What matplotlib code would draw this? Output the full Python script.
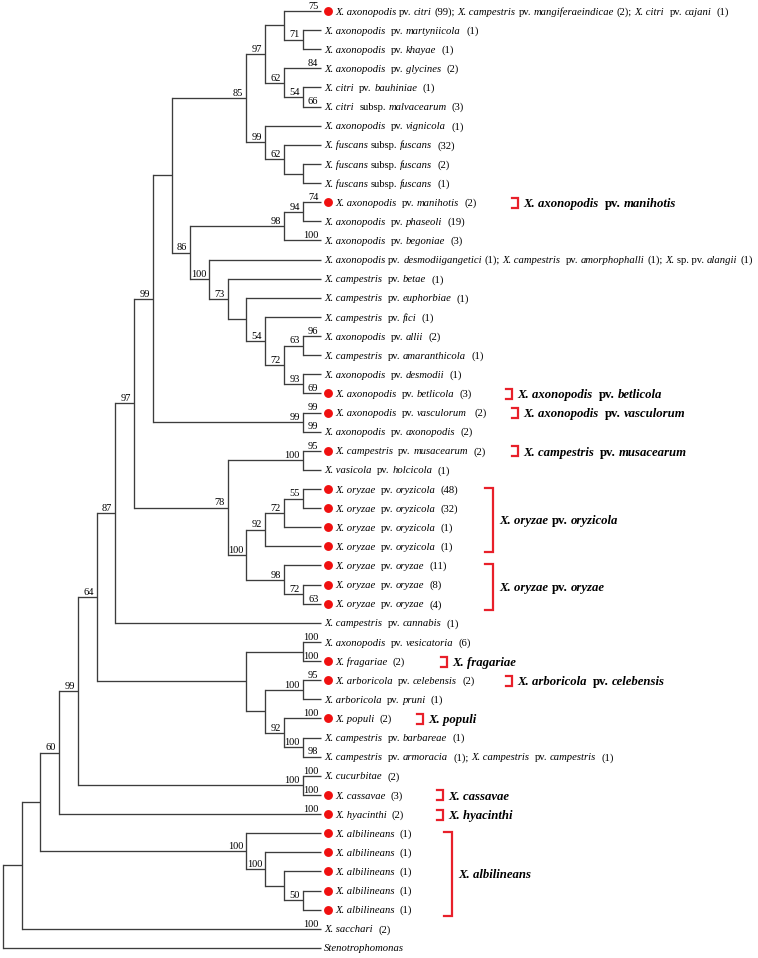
import re
import matplotlib
matplotlib.use("Agg")
import matplotlib.pyplot as plt

# ------------------------------------------------------------------ data
LEAF_LABELS = [
    "*X. axonopodis* pv. *citri* (99); *X. campestris* pv. *mangiferaeindicae* (2); *X. citri*  pv. *cajani*  (1)",
    "*X. axonopodis*  pv. *martyniicola*  (1)",
    "*X. axonopodis*  pv. *khayae*  (1)",
    "*X. axonopodis*  pv. *glycines*  (2)",
    "*X. citri*  pv. *bauhiniae*  (1)",
    "*X. citri*  subsp. *malvacearum*  (3)",
    "*X. axonopodis*  pv. *vignicola*  (1)",
    "*X. fuscans* subsp. *fuscans*  (32)",
    "*X. fuscans* subsp. *fuscans*  (2)",
    "*X. fuscans* subsp. *fuscans*  (1)",
    "*X. axonopodis*  pv. *manihotis*  (2)",
    "*X. axonopodis*  pv. *phaseoli*  (19)",
    "*X. axonopodis*  pv. *begoniae*  (3)",
    "*X. axonopodis* pv. *desmodiigangetici* (1); *X. campestris*  pv. *amorphophalli* (1); *X.* sp. pv. *alangii* (1)",
    "*X. campestris*  pv. *betae*  (1)",
    "*X. campestris*  pv. *euphorbiae*  (1)",
    "*X. campestris*  pv. *fici*  (1)",
    "*X. axonopodis*  pv. *allii*  (2)",
    "*X. campestris*  pv. *amaranthicola*  (1)",
    "*X. axonopodis*  pv. *desmodii*  (1)",
    "*X. axonopodis*  pv. *betlicola*  (3)",
    "*X. axonopodis*  pv. *vasculorum*   (2)",
    "*X. axonopodis*  pv. *axonopodis*  (2)",
    "*X. campestris*  pv. *musacearum*  (2)",
    "*X. vasicola*  pv. *holcicola*  (1)",
    "*X. oryzae*  pv. *oryzicola*  (48)",
    "*X. oryzae*  pv. *oryzicola*  (32)",
    "*X. oryzae*  pv. *oryzicola*  (1)",
    "*X. oryzae*  pv. *oryzicola*  (1)",
    "*X. oryzae*  pv. *oryzae*  (11)",
    "*X. oryzae*  pv. *oryzae*  (8)",
    "*X. oryzae*  pv. *oryzae*  (4)",
    "*X. campestris*  pv. *cannabis*  (1)",
    "*X. axonopodis*  pv. *vesicatoria*  (6)",
    "*X. fragariae*  (2)",
    "*X. arboricola*  pv. *celebensis*  (2)",
    "*X. arboricola*  pv. *pruni*  (1)",
    "*X. populi*  (2)",
    "*X. campestris*  pv. *barbareae*  (1)",
    "*X. campestris*  pv. *armoracia*  (1); *X. campestris*  pv. *campestris*  (1)",
    "*X. cucurbitae*  (2)",
    "*X. cassavae*  (3)",
    "*X. hyacinthi*  (2)",
    "*X. albilineans*  (1)",
    "*X. albilineans*  (1)",
    "*X. albilineans*  (1)",
    "*X. albilineans*  (1)",
    "*X. albilineans*  (1)",
    "*X. sacchari*  (2)",
    "*Stenotrophomonas*",
]

# bootstrap values written on terminal branches (leaf index -> value)
LEAF_SUPPORT = {0: 75, 3: 84, 5: 66, 10: 74, 12: 100, 17: 96, 20: 69, 21: 99,
                22: 99, 23: 95, 31: 63, 33: 100, 34: 100, 35: 95, 37: 100,
                39: 98, 40: 100, 41: 100, 42: 100, 48: 100}

# leaves marked with a red dot
RED_DOT_LEAVES = [0, 10, 20, 21, 23, 25, 26, 27, 28, 29, 30, 31, 34, 35, 37,
                  41, 42, 43, 44, 45, 46, 47]

# topology (leaf indices) with bootstrap values of internal nodes
CLADE_CITRI = "((0,(1,2)71),(3,(4,5)54)62)97"
CLADE_FUSCANS = "(6,(7,(8,9))62)99"
CLADE_PHASEOLI = "((10,11)94,12)98"
CLADE_CAMPESTRIS = "(13,(14,(15,(16,((17,18)63,(19,20)93)72)54))73)100"
CLADE_ORYZAE = "((23,24)100,((((25,26)55,27)72,28)92,(29,(30,31)72)98)100)78"
CLADE_ARBORICOLA = "((33,34),((35,36)100,(37,(38,39)100)92))"
CLADE_ALBILINEANS = "(43,(44,(45,(46,47)50))100)100"

TREE_NEWICK = (
    "(((((((((((" + CLADE_CITRI + "," + CLADE_FUSCANS + ")85,("
    + CLADE_PHASEOLI + "," + CLADE_CAMPESTRIS + ")86),(21,22)99)99,"
    + CLADE_ORYZAE + ")97,32)87," + CLADE_ARBORICOLA + ")64,(40,41)100)99,42)60,"
    + CLADE_ALBILINEANS + "),48),49)"
)

GROUP_FIRST = [10, 20, 21, 23, 25, 29, 34, 35, 37, 41, 42, 43]
GROUP_LAST = [10, 20, 21, 23, 28, 31, 34, 35, 37, 41, 42, 47]
GROUP_LABELS = [
    "*X. axonopodis*  pv. *manihotis*",
    "*X. axonopodis*  pv. *betlicola*",
    "*X. axonopodis*  pv. *vasculorum*",
    "*X. campestris*  pv. *musacearum*",
    "*X. oryzae* pv. *oryzicola*",
    "*X. oryzae* pv. *oryzae*",
    "*X. fragariae*",
    "*X. arboricola*  pv. *celebensis*",
    "*X. populi*",
    "*X. cassavae*",
    "*X. hyacinthi*",
    "*X. albilineans*",
]

# ------------------------------------------------------------------ layout / style
W, H = 758, 958
TIP_X = 321.4
STEP_X = 18.73
Y0 = 11.0
STEP_Y = 19.12
BRACKET_X = [518, 512, 518, 518, 493, 493, 447, 512, 423, 443, 443, 452]
FONT = "Liberation Serif"
LEAF_FS = 7.7
SUP_FS = 7.5
GROUP_FS = 9.2
LINE_COLOR = "#3c3c3c"
RED = "#e8202a"
DOT_RED = "#f01010"

fig = plt.figure(figsize=(W / 100, H / 100), dpi=100)
ax = fig.add_axes([0, 0, 1, 1])
ax.set_xlim(0, W)
ax.set_ylim(H, 0)
ax.axis("off")
renderer = fig.canvas.get_renderer()


def parse(s):
    pos = 0

    def node():
        nonlocal pos
        if s[pos] == "(":
            pos += 1
            children = [node()]
            while s[pos] == ",":
                pos += 1
                children.append(node())
            assert s[pos] == ")"
            pos += 1
            m = re.match(r"\d+", s[pos:])
            sup = None
            if m:
                sup = int(m.group())
                pos += len(m.group())
            return {"children": children, "support": sup}
        m = re.match(r"\d+", s[pos:])
        pos += len(m.group())
        idx = int(m.group())
        return {"leaf": idx, "support": LEAF_SUPPORT.get(idx)}

    return node()


def layout(n):
    if "leaf" in n:
        n["h"] = 0
        n["y"] = Y0 + STEP_Y * n["leaf"]
    else:
        for c in n["children"]:
            layout(c)
        n["h"] = max(c["h"] for c in n["children"]) + 1
        n["y"] = (n["children"][0]["y"] + n["children"][-1]["y"]) / 2
    n["x"] = TIP_X - STEP_X * n["h"]


def draw(n):
    if "leaf" in n:
        return
    ys = [c["y"] for c in n["children"]]
    ax.plot([n["x"], n["x"]], [min(ys), max(ys)], color=LINE_COLOR, lw=0.95,
            solid_capstyle="projecting")
    for c in n["children"]:
        ax.plot([n["x"], c["x"]], [c["y"], c["y"]], color=LINE_COLOR, lw=0.95,
                solid_capstyle="butt")
        if c["support"] is not None:
            ax.text(c["x"] - 3, c["y"] - 2.2, str(c["support"]), family=FONT,
                    fontsize=SUP_FS, ha="right", va="baseline")
        draw(c)


def rich_text(x, y, markup, fs, bold=False):
    gap = fs * 100 / 72 * 0.25
    parts = markup.split("*")
    for i, part in enumerate(parts):
        if part == "":
            continue
        italic = i % 2 == 1
        lead = len(part) - len(part.lstrip(" "))
        trail = len(part) - len(part.rstrip(" "))
        x += gap * lead
        txt = part.strip(" ")
        if txt:
            t = ax.text(x, y, txt, family=FONT, fontsize=fs,
                        fontstyle="italic" if italic else "normal",
                        fontweight="bold" if bold else "normal",
                        ha="left", va="baseline")
            x += t.get_window_extent(renderer).width
        x += gap * trail
    return x


tree = parse(TREE_NEWICK)
layout(tree)
draw(tree)

# leaf labels and dots
for i, lab in enumerate(LEAF_LABELS):
    y = Y0 + STEP_Y * i
    if i in RED_DOT_LEAVES:
        ax.plot([TIP_X + 6.8], [y], "o", color=DOT_RED, markersize=6.4,
                markeredgewidth=0)
        x0 = TIP_X + 13.5
    else:
        x0 = TIP_X + 2.8
    rich_text(x0, y + 3.6, lab, LEAF_FS)

# red brackets and group labels
for first, last, lab, bx in zip(GROUP_FIRST, GROUP_LAST, GROUP_LABELS, BRACKET_X):
    y1 = Y0 + STEP_Y * first
    y2 = Y0 + STEP_Y * last
    if first == last:
        top, bot, tick = y1 - 4.5, y1 + 5.5, 6.5
    else:
        top, bot, tick = y1 - 1, y2 + 6, 8
    ax.plot([bx - tick, bx, bx, bx - tick], [top, top, bot, bot], color=RED,
            lw=1.6, solid_joinstyle="miter")
    rich_text(bx + (5 if first == last else 6.5), (top + bot) / 2 + 4.3, lab,
              GROUP_FS, bold=True)

fig.savefig("out.png", dpi=100)
